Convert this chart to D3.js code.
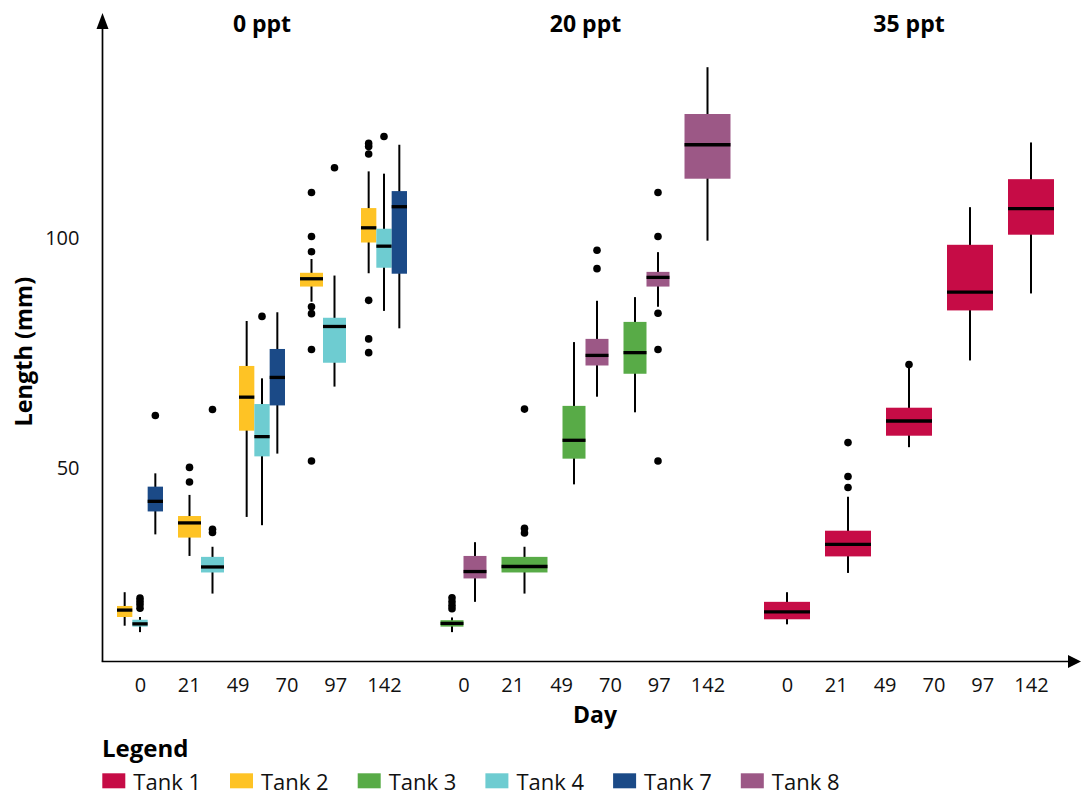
<!DOCTYPE html>
<html>
<head>
<meta charset="utf-8">
<script src="https://cdn.jsdelivr.net/npm/d3@7/dist/d3.min.js"></script>
<style>
  html, body { margin: 0; padding: 0; background: #fff; }
  svg { display: block; font-family: "Open Sans", "Noto Sans", sans-serif; }
</style>
</head>
<body>
<svg id="chart" width="1081" height="801"></svg>
<script>
// Salinity panels, sampling-day labels and tanks
const salinities = ["0 ppt", "20 ppt", "35 ppt"];
const dayLabels = ["0", "21", "49", "70", "97", "142"];
const samplings = [1, 2, 3, 4, 5];
const tankNames = ["Tank 1", "Tank 2", "Tank 3", "Tank 4", "Tank 7", "Tank 8"];
const tankColors = ["#C60C46", "#FEC325", "#58AB47", "#6ECCD1", "#1B4A87", "#9C5886"];
const yTicks = [50, 100];
const yExtent = [7.8, 149];

// One entry per box (length in mm)
const boxPanel = ["0 ppt","0 ppt","0 ppt","0 ppt","0 ppt","0 ppt","0 ppt","0 ppt","0 ppt","0 ppt","0 ppt","0 ppt","0 ppt",
                  "20 ppt","20 ppt","20 ppt","20 ppt","20 ppt","20 ppt","20 ppt","20 ppt",
                  "35 ppt","35 ppt","35 ppt","35 ppt","35 ppt"];
const boxSampling = [1,1,1,2,2,3,3,3,4,4,5,5,5, 1,1,2,3,3,4,4,5, 1,2,3,4,5];
const boxTank = ["Tank 2","Tank 4","Tank 7","Tank 2","Tank 4","Tank 2","Tank 4","Tank 7","Tank 2","Tank 4","Tank 2","Tank 4","Tank 7",
                 "Tank 3","Tank 8","Tank 3","Tank 3","Tank 8","Tank 3","Tank 8","Tank 8",
                 "Tank 1","Tank 1","Tank 1","Tank 1","Tank 1"];
const boxLow    = [15.6,14.2,35.5, 30.8,22.6, 39.3,37.5,53.1, 86.2,67.7, 92.4,84.2,80.4, 14.2,20.8, 22.6, 46.4,65.5, 62.1,85.1, 99.5, 15.9,27.1,54.5,73.4,88.0];
const boxQ1     = [17.5,15.4,40.5, 34.8,27.2, 58.1,52.5,63.6, 89.5,72.9, 99.1,93.6,92.3, 15.4,25.9, 27.2, 52.0,72.3, 70.5,89.5, 113.0, 17.0,30.7,57.0,84.3,100.8];
const boxMedian = [19.0,16.0,42.7, 38.0,28.4, 65.4,56.8,69.7, 91.2,80.8, 102.3,98.3,106.9, 16.1,27.4, 28.5, 56.0,74.5, 75.1,91.5, 120.4, 18.6,33.3,60.2,88.3,106.5];
const boxQ3     = [19.9,16.9,45.9, 39.5,30.6, 72.2,63.9,75.9, 92.5,82.7, 106.6,102.1,110.3, 16.8,30.8, 30.6, 63.5,78.1, 81.8,92.7, 127.1, 20.8,36.3,63.1,98.6,112.9];
const boxHigh   = [22.9,17.5,48.8, 44.1,32.8, 82.0,69.5,83.9, 95.5,91.9, 114.6,114.1,120.4, 17.4,33.8, 32.8, 77.4,86.4, 87.2,97.0, 137.3, 22.9,43.7,72.5,106.8,120.9];
const boxOutliers = [
  [], [21.6,20.9,20.2,19.4], [61.4],
  [50.1,46.9], [62.7,36.6,35.9],
  [], [83.0], [],
  [110.0,100.4,97.1,85.1,83.6,75.8,51.5], [115.4],
  [120.7,120.0,118.4,86.5,78.1,75.1], [122.2], [],
  [21.7,20.8,20.0,19.3], [],
  [62.8,36.8,35.8],
  [], [97.4,93.4],
  [], [110.0,100.4,83.7,75.8,51.5],
  [],
  [], [55.5,48.1,45.7], [72.5], [], []
];

const svg = d3.select("#chart");
const axisX0 = 102.5, axisY0 = 661.5;

const color = d3.scaleOrdinal().domain(tankNames).range(tankColors);
const y = d3.scaleLinear().domain(yExtent).range([axisY0, 13.5]);

const panel = d3.scaleBand().domain(salinities).range([109.5, 1061.5]).paddingInner(0.0572);
const slot = d3.scaleBand().domain(samplings).range([0, panel.bandwidth()])
  .paddingInner(0.246).paddingOuter(0.123);

const boxes = boxPanel.map((p, i) => ({
  panel: p, sampling: boxSampling[i], tank: boxTank[i],
  low: boxLow[i], q1: boxQ1[i], median: boxMedian[i], q3: boxQ3[i], high: boxHigh[i],
  outliers: boxOutliers[i]
}));

// Dodge tanks that share a sampling slot
const groups = d3.group(boxes, d => d.panel, d => d.sampling);
boxes.forEach(b => {
  const tanksHere = groups.get(b.panel).get(b.sampling).map(d => d.tank);
  const inner = d3.scaleBand().domain(tanksHere).range([0, slot.bandwidth()]);
  b.x0 = panel(b.panel) + slot(b.sampling) + inner(b.tank);
  b.w = inner.bandwidth();
  b.cx = b.x0 + b.w / 2;
});

const marks = svg.append("g");
const bx = marks.selectAll("g.box").data(boxes).join("g").attr("class", "box");

// whiskers
bx.append("line")
  .attr("x1", d => d.cx).attr("x2", d => d.cx)
  .attr("y1", d => y(d.high)).attr("y2", d => y(d.low))
  .attr("stroke", "#000").attr("stroke-width", 2);
// boxes
bx.append("rect")
  .attr("x", d => d.x0).attr("width", d => d.w)
  .attr("y", d => y(d.q3)).attr("height", d => y(d.q1) - y(d.q3))
  .attr("fill", d => color(d.tank));
// medians
bx.append("line")
  .attr("x1", d => d.x0).attr("x2", d => d.x0 + d.w)
  .attr("y1", d => y(d.median)).attr("y2", d => y(d.median))
  .attr("stroke", "#000").attr("stroke-width", 3.3);
// outliers
bx.selectAll("circle").data(d => d.outliers.map(v => ({ v, cx: d.cx }))).join("circle")
  .attr("cx", d => d.cx).attr("cy", d => y(d.v)).attr("r", 3.8).attr("fill", "#000");

// Axis lines with arrow heads
const axes = svg.append("g");
axes.append("line").attr("x1", axisX0).attr("x2", axisX0).attr("y1", axisY0).attr("y2", 26)
  .attr("stroke", "#000").attr("stroke-width", 1.7);
axes.append("path").attr("d", `M${axisX0 - 6},29 L${axisX0 + 6},29 L${axisX0},13 Z`).attr("fill", "#000");
axes.append("line").attr("x1", axisX0 - 0.85).attr("x2", 1070).attr("y1", axisY0).attr("y2", axisY0)
  .attr("stroke", "#000").attr("stroke-width", 1.7);
axes.append("path").attr("d", `M1068,${axisY0 - 6.5} L1068,${axisY0 + 6.5} L1081,${axisY0} Z`).attr("fill", "#000");

// Y tick labels
const yAxis = svg.append("g").attr("transform", `translate(${axisX0},0)`)
  .call(d3.axisLeft(y).tickValues(yTicks).tickSize(0).tickPadding(23).tickFormat(d3.format("d")));
yAxis.select(".domain").remove();
yAxis.selectAll("text").attr("font-size", 20).attr("fill", "#111").style("font-family", "Open Sans");

// Day labels and panel titles
salinities.forEach(s => {
  const x0 = panel(s);
  const days = d3.scalePoint().domain(dayLabels)
    .range([slot(samplings[0]) + slot.bandwidth() / 2, slot(samplings[samplings.length - 1]) + slot.bandwidth() / 2]);
  const g = svg.append("g").attr("transform", `translate(${x0},${axisY0})`)
    .call(d3.axisBottom(days).tickSize(0).tickPadding(16));
  g.select(".domain").remove();
  g.selectAll("text").attr("font-size", 20).attr("fill", "#111").style("font-family", "Open Sans");

  svg.append("text")
    .attr("x", x0 + panel.bandwidth() / 2).attr("y", 31.7)
    .attr("text-anchor", "middle").attr("font-size", 23).attr("font-weight", 700)
    .text(s);
});

// Axis titles
svg.append("text").attr("x", 595).attr("y", 723.3).attr("text-anchor", "middle")
  .attr("font-size", 23).attr("font-weight", 700).text("Day");
svg.append("text").attr("transform", "translate(31.7,351.7) rotate(-90)")
  .attr("text-anchor", "middle").attr("font-size", 23.5).attr("font-weight", 700).text("Length (mm)");

// Legend
svg.append("text").attr("x", 102).attr("y", 757).attr("font-size", 24).attr("font-weight", 700).text("Legend");
const lx = d3.scaleBand().domain(tankNames).range([102.3, 102.3 + 127.7 * tankNames.length]);
const li = svg.append("g").selectAll("g").data(tankNames).join("g")
  .attr("transform", d => `translate(${lx(d)},0)`);
li.append("rect").attr("x", 0).attr("y", 773.3).attr("width", 23).attr("height", 15).attr("fill", d => color(d));
li.append("text").attr("x", 31).attr("y", 790).attr("font-size", 22).attr("fill", "#111").text(d => d);
</script>
</body>
</html>
